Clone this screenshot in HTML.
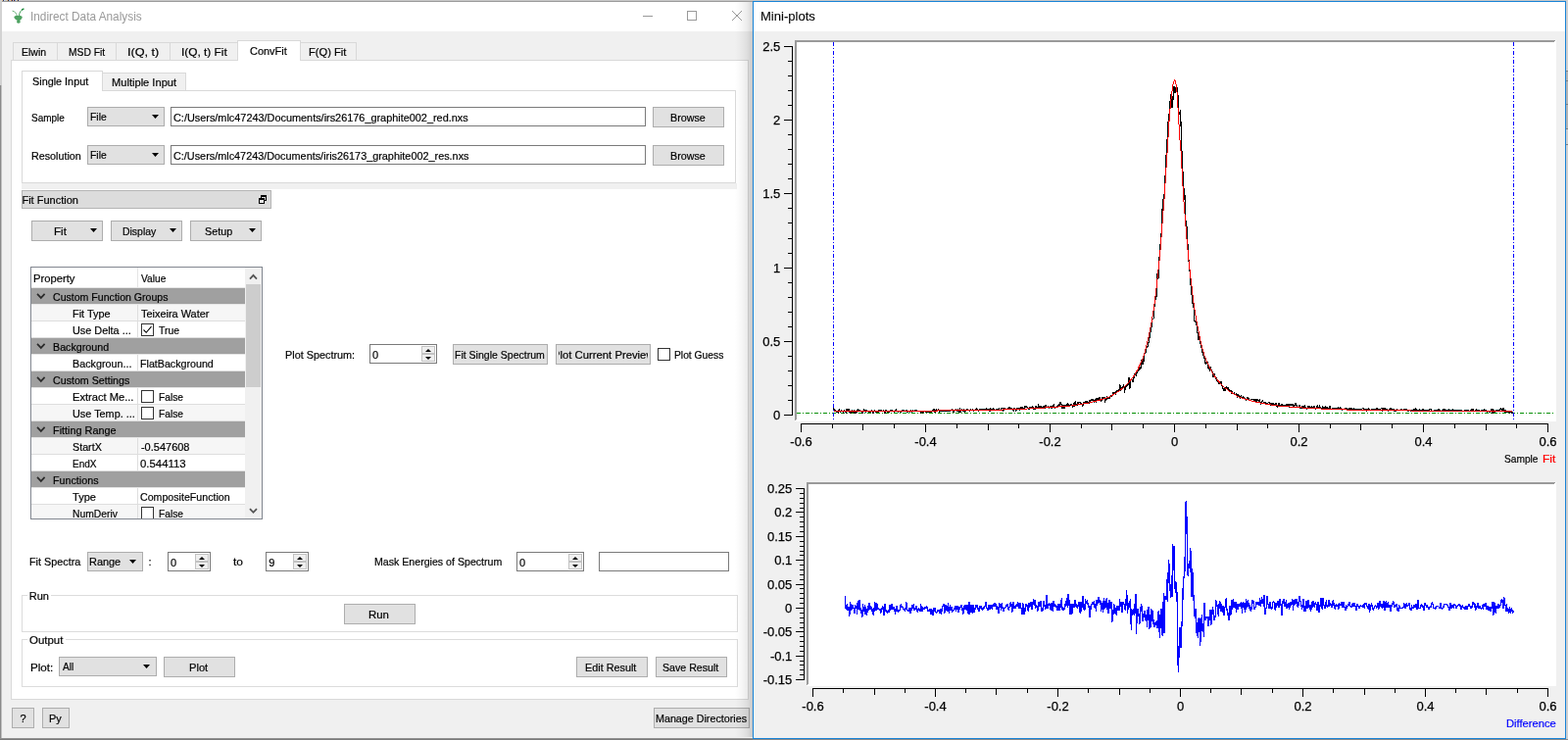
<!DOCTYPE html>
<html lang="en"><head><meta charset="utf-8"><title>Indirect Data Analysis</title>
<style>
html,body{margin:0;padding:0;}
body{width:1600px;height:755px;overflow:hidden;background:#8c8c8c;font-family:"Liberation Sans", sans-serif;font-size:11px;color:#000;position:relative;}
#root{position:absolute;left:0;top:0;width:1600px;height:755px;overflow:hidden;}
#root div,#root span,#root svg{position:absolute;box-sizing:content-box;}
.t{white-space:pre;font-family:"Liberation Sans", sans-serif;-webkit-text-stroke:0.2px;}
</style></head><body><div id="root">
<div style="left:0px;top:0px;width:1600px;height:1px;background:#c8c8c8;"></div>
<div style="left:2px;top:0px;width:1px;height:1px;background:#e8c890;"></div>
<div style="left:3px;top:0px;width:1px;height:1px;background:#303060;"></div>
<div style="left:4px;top:0px;width:1px;height:1px;background:#c0d8f0;"></div>
<div style="left:7px;top:0px;width:1px;height:1px;background:#e0c080;"></div>
<div style="left:8px;top:0px;width:1px;height:1px;background:#502020;"></div>
<div style="left:9px;top:0px;width:1px;height:1px;background:#80b0e0;"></div>
<div style="left:11px;top:0px;width:1px;height:1px;background:#d09050;"></div>
<div style="left:12px;top:0px;width:1px;height:1px;background:#302050;"></div>
<div style="left:14px;top:0px;width:1px;height:1px;background:#602020;"></div>
<div style="left:15px;top:0px;width:1px;height:1px;background:#70a0e0;"></div>
<div style="left:17px;top:0px;width:1px;height:1px;background:#e0c080;"></div>
<div style="left:18px;top:0px;width:1px;height:1px;background:#202060;"></div>
<div style="left:0px;top:1px;width:768px;height:1px;background:#9b9b9b;"></div>
<div style="left:0px;top:0px;width:2px;height:87px;background:#d2d2d2;"></div>
<div style="left:0px;top:87px;width:1px;height:668px;background:#8a8a8a;"></div>
<div style="left:1px;top:87px;width:1px;height:668px;background:#c0c0c0;"></div>
<div style="left:0px;top:753px;width:768px;height:1px;background:#909090;"></div>
<div style="left:0px;top:754px;width:768px;height:1px;background:#7a7a7a;"></div>
<div style="left:2px;top:2px;width:766px;height:30px;background:#fff;"></div>
<div style="left:2px;top:32px;width:766px;height:721px;background:#f0f0f0;"></div>
<svg style="left:10px;top:6px" width="18" height="20" viewBox="10 6 18 20"><path d="M13.0 11.2 C15.2 11.6 16.6 13.4 17.5 16.2" fill="none" stroke="#58a868" stroke-width="0.9" stroke-linecap="round"/><path d="M19.4 16.0 C19.8 12.6 21.4 10.4 23.2 9.5" fill="none" stroke="#45a05a" stroke-width="1.0" stroke-linecap="round"/><path d="M22.6 9.9 L24.0 9.2" fill="none" stroke="#1e8a3c" stroke-width="1.5" stroke-linecap="round"/><path d="M14.3 17.4 C14.8 16.0 17.0 15.9 18.5 16.1 C20.0 15.9 22.2 16.0 22.8 17.4 C22.5 19.0 21.3 20.0 20.3 20.8 L20.8 22.8 C20.0 24.2 17.8 24.2 17.0 22.8 L17.5 20.8 C16.2 20.0 14.6 19.0 14.3 17.4 Z" fill="#3f9a54" opacity="0.92"/></svg>
<span class="t" style="top:9px;font-size:12px;line-height:16px;color:#9a9a9a;left:30.71px;-webkit-text-stroke:0px;transform:scaleX(0.9851);transform-origin:0 50%;">Indirect Data Analysis</span>
<svg style="left:650px;top:6px" width="112" height="22" viewBox="0 0 112 22"><path d="M6 10.5 H16" stroke="#999" stroke-width="1" fill="none"/><rect x="51.5" y="5.5" width="9" height="9" stroke="#999" stroke-width="1" fill="none"/><path d="M97 5 L107 15 M107 5 L97 15" stroke="#999" stroke-width="1" fill="none"/></svg>
<div style="left:11px;top:61px;width:751px;height:651px;background:#fff;border:1px solid #d9d9d9;"></div>
<div style="left:13px;top:43px;width:349px;height:17px;background:#f0f0f0;border:1px solid #d9d9d9;"></div>
<div style="left:58px;top:44px;width:1px;height:17px;background:#d9d9d9;"></div>
<div style="left:118px;top:44px;width:1px;height:17px;background:#d9d9d9;"></div>
<div style="left:173px;top:44px;width:1px;height:17px;background:#d9d9d9;"></div>
<div style="left:242px;top:41px;width:63px;height:20px;background:#fff;border:1px solid #d9d9d9;border-bottom:none;"></div>
<span class="t" style="top:46px;font-size:11px;line-height:14px;left:21.68px;transform:scaleX(0.9560);transform-origin:0 50%;">Elwin</span>
<span class="t" style="top:46px;font-size:11px;line-height:14px;left:69.5px;transform:scaleX(0.9359);transform-origin:0 50%;">MSD Fit</span>
<span class="t" style="top:46px;font-size:11px;line-height:14px;left:129.74px;transform:scaleX(1.1500);transform-origin:0 50%;">I(Q, t)</span>
<span class="t" style="top:46px;font-size:11px;line-height:14px;left:184.69px;transform:scaleX(1.0784);transform-origin:0 50%;">I(Q, t) Fit</span>
<span class="t" style="top:45px;font-size:11px;line-height:14px;left:255px;transform:scaleX(0.9947);transform-origin:0 50%;">ConvFit</span>
<span class="t" style="top:46px;font-size:11px;line-height:14px;left:315.44px;transform:scaleX(1.0121);transform-origin:0 50%;">F(Q) Fit</span>
<div style="left:22px;top:92px;width:727px;height:93px;background:#fff;border:1px solid #d9d9d9;"></div>
<div style="left:104px;top:74px;width:84px;height:17px;background:#f0f0f0;border:1px solid #d9d9d9;"></div>
<div style="left:22px;top:72px;width:81px;height:20px;background:#fff;border:1px solid #d9d9d9;border-bottom:none;"></div>
<span class="t" style="top:76px;font-size:11px;line-height:14px;left:33.25px;transform:scaleX(0.9845);transform-origin:0 50%;">Single Input</span>
<span class="t" style="top:77px;font-size:11px;line-height:14px;left:113.54px;transform:scaleX(1.0100);transform-origin:0 50%;">Multiple Input</span>
<span class="t" style="top:112.5px;font-size:11px;line-height:14px;left:32.47px;transform:scaleX(0.9061);transform-origin:0 50%;">Sample</span>
<div style="left:89px;top:109px;width:77px;height:18px;background:#e1e1e1;border:1px solid #adadad;"></div>
<span class="t" style="top:111.5px;font-size:11px;line-height:14px;left:91.69px;transform:scaleX(0.9433);transform-origin:0 50%;">File</span>
<svg style="left:155px;top:117px" width="7" height="4" viewBox="0 0 7 4"><polygon points="0,0 7,0 3.5,4" fill="#000"/></svg>
<div style="left:174px;top:109px;width:483px;height:18px;background:#fff;border:1px solid #7a7a7a;"></div>
<span class="t" style="top:113px;font-size:11px;line-height:14px;left:177.01px;transform:scaleX(0.9894);transform-origin:0 50%;">C:/Users/mlc47243/Documents/irs26176_graphite002_red.nxs</span>
<div style="left:666px;top:109px;width:71px;height:19px;background:#e1e1e1;border:1px solid #adadad;"></div>
<span class="t" style="top:112.5px;font-size:11px;line-height:14px;left:683.77px;transform:scaleX(0.9775);transform-origin:0 50%;">Browse</span>
<span class="t" style="top:151.5px;font-size:11px;line-height:14px;left:31.97px;transform:scaleX(0.9773);transform-origin:0 50%;">Resolution</span>
<div style="left:89px;top:148px;width:77px;height:18px;background:#e1e1e1;border:1px solid #adadad;"></div>
<span class="t" style="top:150.5px;font-size:11px;line-height:14px;left:91.69px;transform:scaleX(0.9433);transform-origin:0 50%;">File</span>
<svg style="left:155px;top:156px" width="7" height="4" viewBox="0 0 7 4"><polygon points="0,0 7,0 3.5,4" fill="#000"/></svg>
<div style="left:174px;top:148px;width:483px;height:18px;background:#fff;border:1px solid #7a7a7a;"></div>
<span class="t" style="top:152px;font-size:11px;line-height:14px;left:177.01px;transform:scaleX(0.9862);transform-origin:0 50%;">C:/Users/mlc47243/Documents/iris26173_graphite002_res.nxs</span>
<div style="left:666px;top:148px;width:71px;height:19px;background:#e1e1e1;border:1px solid #adadad;"></div>
<span class="t" style="top:151.5px;font-size:11px;line-height:14px;left:683.77px;transform:scaleX(0.9775);transform-origin:0 50%;">Browse</span>
<div style="left:22px;top:187px;width:730px;height:6px;background:#f0f0f0;"></div>
<div style="left:22px;top:194px;width:253px;height:17px;background:#dcdcdc;border:1px solid #b4b4b4;"></div>
<span class="t" style="top:197px;font-size:11px;line-height:14px;left:22.45px;">Fit Function</span>
<svg style="left:263px;top:199px" width="10" height="10" viewBox="0 0 10 10"><rect x="3.5" y="0.5" width="5" height="5" fill="#dcdcdc" stroke="#000" stroke-width="1"/><path d="M3 1.5 H9" stroke="#000" stroke-width="1"/><rect x="1.5" y="3.5" width="5" height="5" fill="#eee" stroke="#000" stroke-width="1"/><path d="M1 4.5 H7" stroke="#000" stroke-width="1"/></svg>
<div style="left:32px;top:225px;width:71px;height:19px;background:#e1e1e1;border:1px solid #adadad;"></div>
<span class="t" style="top:228.5px;font-size:11px;line-height:14px;left:54.61px;transform:scaleX(1.0522);transform-origin:0 50%;">Fit</span>
<svg style="left:92px;top:233px" width="7" height="4" viewBox="0 0 7 4"><polygon points="0,0 7,0 3.5,4" fill="#000"/></svg>
<div style="left:113px;top:225px;width:71px;height:19px;background:#e1e1e1;border:1px solid #adadad;"></div>
<span class="t" style="top:228.5px;font-size:11px;line-height:14px;left:124.69px;transform:scaleX(0.9493);transform-origin:0 50%;">Display</span>
<svg style="left:173px;top:233px" width="7" height="4" viewBox="0 0 7 4"><polygon points="0,0 7,0 3.5,4" fill="#000"/></svg>
<div style="left:194px;top:225px;width:71px;height:19px;background:#e1e1e1;border:1px solid #adadad;"></div>
<span class="t" style="top:228.5px;font-size:11px;line-height:14px;left:209.15px;transform:scaleX(0.9805);transform-origin:0 50%;">Setup</span>
<svg style="left:254px;top:233px" width="7" height="4" viewBox="0 0 7 4"><polygon points="0,0 7,0 3.5,4" fill="#000"/></svg>
<div style="left:31px;top:272px;width:235px;height:256px;background:#fff;border:1px solid #828790;"></div>
<div style="left:32px;top:293px;width:218px;height:1px;background:#e5e5e5;"></div>
<span class="t" style="top:277px;font-size:11px;line-height:14px;left:34.44px;transform:scaleX(1.0195);transform-origin:0 50%;">Property</span>
<span class="t" style="top:277px;font-size:11px;line-height:14px;left:144.2px;transform:scaleX(0.9259);transform-origin:0 50%;">Value</span>
<div style="left:0;top:0;width:250px;height:529px;overflow:hidden">
<div style="left:32px;top:294px;width:218px;height:16px;background:#a0a0a0;"></div>
<svg style="left:37px;top:299px" width="10" height="7" viewBox="0 0 10 7"><path d="M1 0.9 L4.8 4.9 L8.6 0.9" fill="none" stroke="#2a2a2a" stroke-width="1.7"/></svg>
<span class="t" style="top:295.5px;font-size:11px;line-height:14px;left:54.12px;transform:scaleX(0.9613);transform-origin:0 50%;">Custom Function Groups</span>
<div style="left:32px;top:310px;width:218px;height:1px;background:#e6e6e6;"></div>
<div style="left:32px;top:311px;width:218px;height:16px;background:#f6f6f6;"></div>
<div style="left:32px;top:327px;width:218px;height:1px;background:#dedede;"></div>
<div style="left:140px;top:311px;width:1px;height:17px;background:#dedede;"></div>
<span class="t" style="top:312.5px;font-size:11px;line-height:14px;left:73.75px;transform:scaleX(0.9934);transform-origin:0 50%;">Fit Type</span>
<span class="t" style="top:312.5px;font-size:11px;line-height:14px;left:143.5px;transform:scaleX(0.9929);transform-origin:0 50%;">Teixeira Water</span>
<div style="left:32px;top:328px;width:218px;height:16px;background:#fff;"></div>
<div style="left:32px;top:344px;width:218px;height:1px;background:#dedede;"></div>
<div style="left:140px;top:328px;width:1px;height:17px;background:#dedede;"></div>
<span class="t" style="top:329.5px;font-size:11px;line-height:14px;left:73.76px;transform:scaleX(0.9864);transform-origin:0 50%;">Use Delta ...</span>
<div style="left:144px;top:330px;width:11px;height:11px;background:#fff;border:1px solid #333;"></div>
<svg style="left:144px;top:330px" width="13" height="13" viewBox="0 0 13 13"><path d="M2.5 6.5 L5.2 9.3 L10.5 3.2" fill="none" stroke="#000" stroke-width="1.1"/></svg>
<span class="t" style="top:329.5px;font-size:11px;line-height:14px;left:162.4px;transform:scaleX(0.9471);transform-origin:0 50%;">True</span>
<div style="left:32px;top:345px;width:218px;height:16px;background:#a0a0a0;"></div>
<svg style="left:37px;top:350px" width="10" height="7" viewBox="0 0 10 7"><path d="M1 0.9 L4.8 4.9 L8.6 0.9" fill="none" stroke="#2a2a2a" stroke-width="1.7"/></svg>
<span class="t" style="top:346.5px;font-size:11px;line-height:14px;left:53.87px;transform:scaleX(0.9729);transform-origin:0 50%;">Background</span>
<div style="left:32px;top:361px;width:218px;height:1px;background:#e6e6e6;"></div>
<div style="left:32px;top:362px;width:218px;height:16px;background:#fff;"></div>
<div style="left:32px;top:378px;width:218px;height:1px;background:#dedede;"></div>
<div style="left:140px;top:362px;width:1px;height:17px;background:#dedede;"></div>
<span class="t" style="top:363.5px;font-size:11px;line-height:14px;left:73.77px;transform:scaleX(0.9776);transform-origin:0 50%;">Backgroun...</span>
<span class="t" style="top:363.5px;font-size:11px;line-height:14px;left:142.77px;transform:scaleX(0.9703);transform-origin:0 50%;">FlatBackground</span>
<div style="left:32px;top:379px;width:218px;height:16px;background:#a0a0a0;"></div>
<svg style="left:37px;top:384px" width="10" height="7" viewBox="0 0 10 7"><path d="M1 0.9 L4.8 4.9 L8.6 0.9" fill="none" stroke="#2a2a2a" stroke-width="1.7"/></svg>
<span class="t" style="top:380.5px;font-size:11px;line-height:14px;left:54.12px;transform:scaleX(0.9700);transform-origin:0 50%;">Custom Settings</span>
<div style="left:32px;top:395px;width:218px;height:1px;background:#e6e6e6;"></div>
<div style="left:32px;top:396px;width:218px;height:16px;background:#fff;"></div>
<div style="left:32px;top:412px;width:218px;height:1px;background:#dedede;"></div>
<div style="left:140px;top:396px;width:1px;height:17px;background:#dedede;"></div>
<span class="t" style="top:397.5px;font-size:11px;line-height:14px;left:73.74px;transform:scaleX(1.0108);transform-origin:0 50%;">Extract Me...</span>
<div style="left:144px;top:398px;width:11px;height:11px;background:#fff;border:1px solid #333;"></div>
<span class="t" style="top:397.5px;font-size:11px;line-height:14px;left:161.7px;transform:scaleX(0.9282);transform-origin:0 50%;">False</span>
<div style="left:32px;top:413px;width:218px;height:16px;background:#f6f6f6;"></div>
<div style="left:32px;top:429px;width:218px;height:1px;background:#dedede;"></div>
<div style="left:140px;top:413px;width:1px;height:17px;background:#dedede;"></div>
<span class="t" style="top:414.5px;font-size:11px;line-height:14px;left:73.76px;transform:scaleX(0.9873);transform-origin:0 50%;">Use Temp. ...</span>
<div style="left:144px;top:415px;width:11px;height:11px;background:#fff;border:1px solid #333;"></div>
<span class="t" style="top:414.5px;font-size:11px;line-height:14px;left:161.7px;transform:scaleX(0.9282);transform-origin:0 50%;">False</span>
<div style="left:32px;top:430px;width:218px;height:16px;background:#a0a0a0;"></div>
<svg style="left:37px;top:435px" width="10" height="7" viewBox="0 0 10 7"><path d="M1 0.9 L4.8 4.9 L8.6 0.9" fill="none" stroke="#2a2a2a" stroke-width="1.7"/></svg>
<span class="t" style="top:431.5px;font-size:11px;line-height:14px;left:53.86px;transform:scaleX(0.9868);transform-origin:0 50%;">Fitting Range</span>
<div style="left:32px;top:446px;width:218px;height:1px;background:#e6e6e6;"></div>
<div style="left:32px;top:447px;width:218px;height:16px;background:#f6f6f6;"></div>
<div style="left:32px;top:463px;width:218px;height:1px;background:#dedede;"></div>
<div style="left:140px;top:447px;width:1px;height:17px;background:#dedede;"></div>
<span class="t" style="top:448.5px;font-size:11px;line-height:14px;left:74.26px;transform:scaleX(0.9752);transform-origin:0 50%;">StartX</span>
<span class="t" style="top:448.5px;font-size:11px;line-height:14px;left:143.95px;">-0.547608</span>
<div style="left:32px;top:464px;width:218px;height:16px;background:#fff;"></div>
<div style="left:32px;top:480px;width:218px;height:1px;background:#dedede;"></div>
<div style="left:140px;top:464px;width:1px;height:17px;background:#dedede;"></div>
<span class="t" style="top:465.5px;font-size:11px;line-height:14px;left:73.82px;transform:scaleX(0.9115);transform-origin:0 50%;">EndX</span>
<span class="t" style="top:465.5px;font-size:11px;line-height:14px;left:143.24px;transform:scaleX(1.0337);transform-origin:0 50%;">0.544113</span>
<div style="left:32px;top:481px;width:218px;height:16px;background:#a0a0a0;"></div>
<svg style="left:37px;top:486px" width="10" height="7" viewBox="0 0 10 7"><path d="M1 0.9 L4.8 4.9 L8.6 0.9" fill="none" stroke="#2a2a2a" stroke-width="1.7"/></svg>
<span class="t" style="top:482.5px;font-size:11px;line-height:14px;left:53.87px;transform:scaleX(0.9754);transform-origin:0 50%;">Functions</span>
<div style="left:32px;top:497px;width:218px;height:1px;background:#e6e6e6;"></div>
<div style="left:32px;top:498px;width:218px;height:16px;background:#fff;"></div>
<div style="left:32px;top:514px;width:218px;height:1px;background:#dedede;"></div>
<div style="left:140px;top:498px;width:1px;height:17px;background:#dedede;"></div>
<span class="t" style="top:499.5px;font-size:11px;line-height:14px;left:73.6px;transform:scaleX(1.0043);transform-origin:0 50%;">Type</span>
<span class="t" style="top:499.5px;font-size:11px;line-height:14px;left:143.02px;transform:scaleX(0.9664);transform-origin:0 50%;">CompositeFunction</span>
<div style="left:32px;top:515px;width:218px;height:16px;background:#f6f6f6;"></div>
<div style="left:32px;top:531px;width:218px;height:1px;background:#dedede;"></div>
<div style="left:140px;top:515px;width:1px;height:17px;background:#dedede;"></div>
<span class="t" style="top:516.5px;font-size:11px;line-height:14px;left:73.8px;transform:scaleX(0.9389);transform-origin:0 50%;">NumDeriv</span>
<div style="left:144px;top:517px;width:11px;height:11px;background:#fff;border:1px solid #333;"></div>
<span class="t" style="top:516.5px;font-size:11px;line-height:14px;left:161.7px;transform:scaleX(0.9282);transform-origin:0 50%;">False</span>
</div>
<div style="left:140px;top:273px;width:1px;height:21px;background:#e5e5e5;"></div>
<div style="left:250px;top:273px;width:17px;height:256px;background:#f0f0f0;"></div>
<div style="left:251px;top:290px;width:15px;height:105px;background:#cdcdcd;"></div>
<svg style="left:254px;top:279px" width="9" height="7" viewBox="0 0 9 7"><path d="M1 5.6 L4.5 1.9 L8 5.6" fill="none" stroke="#555" stroke-width="1.8"/></svg>
<svg style="left:254px;top:518px" width="9" height="7" viewBox="0 0 9 7"><path d="M1 1.1 L4.5 4.8 L8 1.1" fill="none" stroke="#555" stroke-width="1.8"/></svg>
<span class="t" style="top:355px;font-size:11px;line-height:14px;left:290.56px;transform:scaleX(0.9858);transform-origin:0 50%;">Plot Spectrum:</span>
<div style="left:377px;top:351px;width:67px;height:18px;background:#fff;border:1px solid #7a7a7a;"></div>
<span class="t" style="top:354.5px;font-size:11px;line-height:14px;left:380.05px;">0</span>
<div style="left:430px;top:353px;width:12px;height:6px;background:#efefef;border:1px solid #c3c3c3;"></div>
<div style="left:430px;top:361px;width:12px;height:6px;background:#efefef;border:1px solid #c3c3c3;"></div>
<svg style="left:434px;top:356px" width="6" height="3" viewBox="0 0 6 3"><polygon points="0,3 6,3 3,0" fill="#000"/></svg>
<svg style="left:434px;top:364px" width="6" height="3" viewBox="0 0 6 3"><polygon points="0,0 6,0 3,3" fill="#000"/></svg>
<div style="left:462px;top:351px;width:95px;height:19px;background:#e1e1e1;border:1px solid #adadad;"></div>
<span class="t" style="top:354.5px;font-size:11px;line-height:14px;left:463.68px;transform:scaleX(0.9562);transform-origin:0 50%;">Fit Single Spectrum</span>
<div style="left:567px;top:351px;width:95px;height:19px;background:#e1e1e1;border:1px solid #adadad;"></div>
<div style="left:0;top:0;width:661px;height:755px;overflow:hidden"><div style="left:570px;top:0;width:200px;height:755px;overflow:hidden;">
<span class="t" style="top:354.5px;font-size:11px;line-height:14px;left:-6.27px;transform:scaleX(1.0264);transform-origin:0 50%;">Plot Current Preview</span>
</div></div>
<div style="left:671px;top:355px;width:11px;height:11px;background:#fff;border:1px solid #333;"></div>
<span class="t" style="top:355px;font-size:11px;line-height:14px;left:688.05px;transform:scaleX(0.9355);transform-origin:0 50%;">Plot Guess</span>
<span class="t" style="top:565.5px;font-size:11px;line-height:14px;left:29.76px;transform:scaleX(0.9829);transform-origin:0 50%;">Fit Spectra</span>
<div style="left:89px;top:563px;width:55px;height:18px;background:#e1e1e1;border:1px solid #adadad;"></div>
<span class="t" style="top:565.5px;font-size:11px;line-height:14px;left:91.46px;transform:scaleX(0.9920);transform-origin:0 50%;">Range</span>
<svg style="left:132px;top:571px" width="7" height="4" viewBox="0 0 7 4"><polygon points="0,0 7,0 3.5,4" fill="#000"/></svg>
<span class="t" style="top:565.5px;font-size:11px;line-height:14px;left:151.55px;">:</span>
<div style="left:171px;top:563px;width:42px;height:18px;background:#fff;border:1px solid #7a7a7a;"></div>
<span class="t" style="top:566.5px;font-size:11px;line-height:14px;left:174.05px;">0</span>
<div style="left:199px;top:565px;width:12px;height:6px;background:#efefef;border:1px solid #c3c3c3;"></div>
<div style="left:199px;top:573px;width:12px;height:6px;background:#efefef;border:1px solid #c3c3c3;"></div>
<svg style="left:203px;top:568px" width="6" height="3" viewBox="0 0 6 3"><polygon points="0,3 6,3 3,0" fill="#000"/></svg>
<svg style="left:203px;top:576px" width="6" height="3" viewBox="0 0 6 3"><polygon points="0,0 6,0 3,3" fill="#000"/></svg>
<span class="t" style="top:565.5px;font-size:11px;line-height:14px;left:237.9px;transform:scaleX(1.0857);transform-origin:0 50%;">to</span>
<div style="left:271px;top:563px;width:42px;height:18px;background:#fff;border:1px solid #7a7a7a;"></div>
<span class="t" style="top:566.5px;font-size:11px;line-height:14px;left:274.15px;">9</span>
<div style="left:299px;top:565px;width:12px;height:6px;background:#efefef;border:1px solid #c3c3c3;"></div>
<div style="left:299px;top:573px;width:12px;height:6px;background:#efefef;border:1px solid #c3c3c3;"></div>
<svg style="left:303px;top:568px" width="6" height="3" viewBox="0 0 6 3"><polygon points="0,3 6,3 3,0" fill="#000"/></svg>
<svg style="left:303px;top:576px" width="6" height="3" viewBox="0 0 6 3"><polygon points="0,0 6,0 3,3" fill="#000"/></svg>
<span class="t" style="top:565.5px;font-size:11px;line-height:14px;left:381.58px;transform:scaleX(0.9645);transform-origin:0 50%;">Mask Energies of Spectrum</span>
<div style="left:527px;top:563px;width:67px;height:18px;background:#fff;border:1px solid #7a7a7a;"></div>
<span class="t" style="top:566.5px;font-size:11px;line-height:14px;left:530.05px;">0</span>
<div style="left:580px;top:565px;width:12px;height:6px;background:#efefef;border:1px solid #c3c3c3;"></div>
<div style="left:580px;top:573px;width:12px;height:6px;background:#efefef;border:1px solid #c3c3c3;"></div>
<svg style="left:584px;top:568px" width="6" height="3" viewBox="0 0 6 3"><polygon points="0,3 6,3 3,0" fill="#000"/></svg>
<svg style="left:584px;top:576px" width="6" height="3" viewBox="0 0 6 3"><polygon points="0,0 6,0 3,3" fill="#000"/></svg>
<div style="left:611px;top:563px;width:131px;height:18px;background:#fff;border:1px solid #7a7a7a;"></div>
<div style="left:22px;top:607px;width:729px;height:36px;border:1px solid #dcdcdc;"></div>
<div style="left:28px;top:600px;width:24px;height:14px;background:#fff;"></div>
<span class="t" style="top:600.5px;font-size:11px;line-height:14px;left:29.75px;">Run</span>
<div style="left:351px;top:616px;width:71px;height:19px;background:#e1e1e1;border:1px solid #adadad;"></div>
<span class="t" style="top:619.5px;font-size:11px;line-height:14px;left:376.42px;transform:scaleX(1.0347);transform-origin:0 50%;">Run</span>
<div style="left:22px;top:652px;width:729px;height:47px;border:1px solid #dcdcdc;"></div>
<div style="left:28px;top:645px;width:39px;height:14px;background:#fff;"></div>
<span class="t" style="top:645.5px;font-size:11px;line-height:14px;left:30.24px;transform:scaleX(1.0412);transform-origin:0 50%;">Output</span>
<span class="t" style="top:674px;font-size:11px;line-height:14px;left:30.51px;transform:scaleX(1.0585);transform-origin:0 50%;">Plot:</span>
<div style="left:60px;top:670px;width:98px;height:18px;background:#e1e1e1;border:1px solid #adadad;"></div>
<span class="t" style="top:672.5px;font-size:11px;line-height:14px;left:63.6px;transform:scaleX(0.9217);transform-origin:0 50%;">All</span>
<svg style="left:146px;top:678px" width="7" height="4" viewBox="0 0 7 4"><polygon points="0,0 7,0 3.5,4" fill="#000"/></svg>
<div style="left:167px;top:670px;width:71px;height:19px;background:#e1e1e1;border:1px solid #adadad;"></div>
<span class="t" style="top:673.5px;font-size:11px;line-height:14px;left:192.64px;transform:scaleX(1.0137);transform-origin:0 50%;">Plot</span>
<div style="left:588px;top:670px;width:71px;height:19px;background:#e1e1e1;border:1px solid #adadad;"></div>
<span class="t" style="top:673.5px;font-size:11px;line-height:14px;left:597.36px;transform:scaleX(0.9848);transform-origin:0 50%;">Edit Result</span>
<div style="left:669px;top:670px;width:71px;height:19px;background:#e1e1e1;border:1px solid #adadad;"></div>
<span class="t" style="top:673.5px;font-size:11px;line-height:14px;left:676.36px;transform:scaleX(0.9654);transform-origin:0 50%;">Save Result</span>
<div style="left:12px;top:722px;width:21px;height:19px;background:#e1e1e1;border:1px solid #adadad;"></div>
<span class="t" style="top:725.5px;font-size:11px;line-height:14px;left:20.45px;">?</span>
<div style="left:43px;top:722px;width:26px;height:19px;background:#e1e1e1;border:1px solid #adadad;"></div>
<span class="t" style="top:725.5px;font-size:11px;line-height:14px;left:49.55px;transform:scaleX(0.9959);transform-origin:0 50%;">Py</span>
<div style="left:667px;top:722px;width:96px;height:19px;background:#e1e1e1;border:1px solid #adadad;"></div>
<span class="t" style="top:725.5px;font-size:11px;line-height:14px;left:668.67px;transform:scaleX(0.9751);transform-origin:0 50%;">Manage Directories</span>
<div style="left:750px;top:2px;width:18px;height:750px;background:linear-gradient(to right, rgba(0,0,0,0) 0%, rgba(0,0,0,0.03) 35%, rgba(0,0,0,0.08) 70%, rgba(0,0,0,0.17) 100%);"></div>
<div style="left:1598px;top:0px;width:2px;height:755px;background:#d0d0d0;"></div>
<div style="left:1598px;top:72px;width:2px;height:60px;background:#b4b4b4;"></div>
<div style="left:1598px;top:72px;width:2px;height:1px;background:#808080;"></div>
<div style="left:1598px;top:82px;width:2px;height:1px;background:#808080;"></div>
<div style="left:1598px;top:106px;width:2px;height:1px;background:#808080;"></div>
<div style="left:1598px;top:131px;width:2px;height:1px;background:#808080;"></div>
<div style="left:1598px;top:147px;width:2px;height:1px;background:#808080;"></div>
<div style="left:768px;top:754px;width:832px;height:1px;background:#8a8a8a;"></div>
<div style="left:768px;top:1px;width:828px;height:751px;background:#f0f0f0;border:1px solid #1883d7;"></div>
<div style="left:769px;top:2px;width:828px;height:30px;background:#fff;"></div>
<span class="t" style="top:9px;font-size:12.5px;line-height:16px;left:776.42px;-webkit-text-stroke:0.1px;transform:scaleX(1.0438);transform-origin:0 50%;">Mini-plots</span>
<svg style="left:769px;top:32px" width="828" height="721" viewBox="769 32 828 721"><g shape-rendering="crispEdges"><rect x="811" y="41" width="777" height="389" fill="#fff"/><path d="M811 41 H1587 V42 H1586 V43 H813 V428 H812 V429 H811 Z" fill="#9a9a9a"/><path d="M808.5 47 V424 M800 423.5 H809 M804 408.5 H809 M804 393.5 H809 M804 378.5 H809 M804 363.5 H809 M800 348.5 H809 M804 333.5 H809 M804 318.5 H809 M804 303.5 H809 M804 288.5 H809 M800 273.5 H809 M804 258.5 H809 M804 243.5 H809 M804 227.5 H809 M804 212.5 H809 M800 197.5 H809 M804 182.5 H809 M804 167.5 H809 M804 152.5 H809 M804 137.5 H809 M800 122.5 H809 M804 107.5 H809 M804 92.5 H809 M804 77.5 H809 M804 62.5 H809 M800 47.5 H809" stroke="#000" stroke-width="1" fill="none"/><path d="M817 432.5 H1580 M817.5 432 V441 M849.5 432 V437 M880.5 432 V439 M912.5 432 V437 M944.5 432 V441 M976.5 432 V437 M1008.5 432 V439 M1039.5 432 V437 M1071.5 432 V441 M1103.5 432 V437 M1134.5 432 V439 M1166.5 432 V437 M1198.5 432 V441 M1230.5 432 V437 M1262.5 432 V439 M1293.5 432 V437 M1325.5 432 V441 M1357.5 432 V437 M1388.5 432 V439 M1420.5 432 V437 M1452.5 432 V441 M1484.5 432 V437 M1516.5 432 V439 M1547.5 432 V437 M1579.5 432 V441" stroke="#000" stroke-width="1" fill="none"/><path d="M813 421.5 H1586" stroke="#009000" stroke-width="1" stroke-dasharray="4 2 1 2" fill="none"/><path d="M850.5 43 V428" stroke="#0000ff" stroke-width="1" stroke-dasharray="4 2 1 2" fill="none"/><path d="M1544.5 43 V428" stroke="#0000ff" stroke-width="1" stroke-dasharray="4 2 1 2" fill="none"/><polyline points="850.8,415.9 851.4,419.9 852.1,419.0 852.8,418.4 853.4,420.5 854.1,419.2 854.7,419.3 855.4,422.1 856.1,417.7 856.7,418.4 857.4,420.3 858.0,419.6 858.7,418.7 859.4,419.7 860.0,419.7 860.7,421.4 861.3,418.7 862.0,419.3 862.7,419.1 863.3,421.4 864.0,417.3 864.6,419.3 865.3,420.0 866.0,416.9 866.6,419.6 867.3,421.3 868.0,420.0 868.6,422.3 869.3,418.3 869.9,420.1 870.6,420.4 871.3,418.4 871.9,421.5 872.6,419.0 873.2,421.9 873.9,420.4 874.6,421.0 875.2,418.1 875.9,417.8 876.5,420.0 877.2,418.8 877.9,419.9 878.5,419.1 879.2,420.5 879.8,421.4 880.5,421.5 881.2,419.4 881.8,417.6 882.5,419.5 883.2,420.3 883.8,417.9 884.5,419.5 885.1,419.6 885.8,419.5 886.5,419.9 887.1,420.0 887.8,421.1 888.4,419.2 889.1,419.8 889.8,418.6 890.4,420.1 891.1,421.6 891.7,419.8 892.4,418.1 893.1,420.1 893.7,420.6 894.4,420.9 895.0,420.7 895.7,420.0 896.4,420.8 897.0,418.2 897.7,420.0 898.4,419.6 899.0,418.3 899.7,418.2 900.3,419.9 901.0,419.3 901.7,418.9 902.3,419.8 903.0,421.4 903.6,419.0 904.3,418.8 905.0,419.2 905.6,420.5 906.3,419.8 906.9,420.2 907.6,419.9 908.3,418.4 908.9,418.1 909.6,419.0 910.2,419.1 910.9,418.9 911.6,419.6 912.2,419.7 912.9,420.2 913.6,419.6 914.2,417.4 914.9,418.7 915.5,419.9 916.2,420.0 916.9,420.4 917.5,419.2 918.2,419.2 918.8,421.0 919.5,419.1 920.2,420.1 920.8,418.2 921.5,419.4 922.1,417.9 922.8,420.0 923.5,419.8 924.1,419.2 924.8,418.5 925.4,419.0 926.1,420.7 926.8,419.3 927.4,419.5 928.1,419.9 928.8,420.1 929.4,417.8 930.1,419.9 930.7,420.3 931.4,418.9 932.1,419.4 932.7,419.5 933.4,418.7 934.0,419.0 934.7,419.1 935.4,418.5 936.0,419.2 936.7,420.0 937.3,419.8 938.0,419.9 938.7,419.2 939.3,420.5 940.0,421.2 940.6,419.3 941.3,420.7 942.0,421.3 942.6,419.1 943.3,420.1 944.0,418.9 944.6,419.9 945.3,420.5 945.9,420.6 946.6,419.9 947.3,419.6 947.9,420.1 948.6,419.6 949.2,420.8 949.9,419.3 950.6,421.0 951.2,419.5 951.9,418.6 952.5,418.2 953.2,417.5 953.9,420.7 954.5,418.4 955.2,418.0 955.8,418.2 956.5,420.1 957.2,418.7 957.8,417.3 958.5,420.6 959.2,418.6 959.8,418.0 960.5,419.7 961.1,418.5 961.8,420.1 962.5,419.8 963.1,419.8 963.8,418.8 964.4,419.1 965.1,418.0 965.8,419.9 966.4,419.1 967.1,418.0 967.7,418.3 968.4,420.2 969.1,418.2 969.7,419.3 970.4,418.4 971.0,418.5 971.7,417.6 972.4,418.7 973.0,420.6 973.7,420.1 974.3,418.0 975.0,419.0 975.7,417.6 976.3,418.4 977.0,419.4 977.7,417.6 978.3,419.5 979.0,420.7 979.6,416.6 980.3,420.5 981.0,417.9 981.6,417.6 982.3,418.4 982.9,420.2 983.6,417.5 984.3,420.0 984.9,419.8 985.6,418.8 986.2,417.7 986.9,418.1 987.6,417.6 988.2,418.9 988.9,418.6 989.5,419.5 990.2,418.7 990.9,417.7 991.5,418.6 992.2,417.8 992.9,418.9 993.5,418.9 994.2,418.2 994.8,418.5 995.5,417.6 996.2,418.0 996.8,416.4 997.5,418.4 998.1,418.4 998.8,419.2 999.5,418.1 1000.1,417.4 1000.8,418.9 1001.4,418.1 1002.1,417.3 1002.8,418.2 1003.4,418.6 1004.1,417.0 1004.7,417.9 1005.4,417.6 1006.1,416.8 1006.7,416.8 1007.4,418.3 1008.1,418.5 1008.7,417.6 1009.4,418.0 1010.0,419.8 1010.7,416.5 1011.4,417.8 1012.0,417.1 1012.7,419.0 1013.3,416.4 1014.0,418.4 1014.7,417.9 1015.3,419.2 1016.0,417.9 1016.6,418.0 1017.3,417.9 1018.0,417.2 1018.6,417.6 1019.3,416.6 1019.9,418.1 1020.6,418.7 1021.3,417.6 1021.9,416.9 1022.6,416.2 1023.3,416.6 1023.9,419.4 1024.6,417.0 1025.2,415.8 1025.9,417.3 1026.6,417.9 1027.2,417.0 1027.9,417.8 1028.5,416.5 1029.2,417.2 1029.9,415.6 1030.5,416.6 1031.2,417.9 1031.8,416.4 1032.5,416.0 1033.2,417.7 1033.8,417.5 1034.5,419.6 1035.1,415.9 1035.8,417.6 1036.5,419.3 1037.1,418.8 1037.8,417.1 1038.5,415.9 1039.1,416.8 1039.8,416.2 1040.4,417.9 1041.1,418.2 1041.8,415.6 1042.4,416.0 1043.1,416.6 1043.7,415.0 1044.4,417.6 1045.1,416.9 1045.7,415.2 1046.4,414.2 1047.0,416.3 1047.7,414.4 1048.4,417.0 1049.0,415.9 1049.7,416.4 1050.3,418.0 1051.0,415.8 1051.7,415.0 1052.3,416.2 1053.0,416.1 1053.7,414.3 1054.3,417.5 1055.0,417.7 1055.6,416.7 1056.3,417.3 1057.0,414.2 1057.6,415.4 1058.3,416.8 1058.9,416.4 1059.6,412.2 1060.3,416.3 1060.9,416.5 1061.6,415.1 1062.2,414.7 1062.9,415.1 1063.6,416.5 1064.2,416.7 1064.9,414.5 1065.5,415.3 1066.2,417.2 1066.9,413.7 1067.5,414.1 1068.2,415.3 1068.9,415.3 1069.5,414.6 1070.2,415.7 1070.8,416.5 1071.5,414.3 1072.2,416.5 1072.8,414.1 1073.5,416.4 1074.1,414.6 1074.8,414.6 1075.5,412.1 1076.1,415.7 1076.8,416.1 1077.4,415.0 1078.1,415.6 1078.8,414.9 1079.4,413.5 1080.1,413.0 1080.7,411.8 1081.4,414.8 1082.1,410.4 1082.7,411.1 1083.4,413.9 1084.1,416.6 1084.7,413.7 1085.4,413.4 1086.0,416.5 1086.7,413.3 1087.4,413.6 1088.0,414.3 1088.7,412.3 1089.3,411.7 1090.0,413.7 1090.7,412.6 1091.3,413.8 1092.0,413.9 1092.6,412.6 1093.3,412.0 1094.0,413.4 1094.6,415.5 1095.3,411.6 1095.9,414.5 1096.6,412.0 1097.3,409.6 1097.9,412.0 1098.6,413.5 1099.3,413.8 1099.9,410.0 1100.6,411.5 1101.2,410.6 1101.9,410.0 1102.6,411.2 1103.2,411.5 1103.9,412.3 1104.5,415.2 1105.2,412.9 1105.9,410.7 1106.5,410.8 1107.2,409.8 1107.8,410.5 1108.5,410.0 1109.2,408.9 1109.8,411.2 1110.5,410.2 1111.1,412.0 1111.8,408.1 1112.5,409.3 1113.1,408.5 1113.8,406.8 1114.5,407.4 1115.1,408.9 1115.8,407.5 1116.4,410.6 1117.1,407.7 1117.8,408.0 1118.4,410.6 1119.1,405.7 1119.7,408.9 1120.4,406.4 1121.1,408.1 1121.7,405.5 1122.4,404.8 1123.0,408.3 1123.7,409.4 1124.4,406.8 1125.0,404.8 1125.7,406.9 1126.3,407.1 1127.0,404.9 1127.7,411.0 1128.3,406.7 1129.0,408.0 1129.7,404.4 1130.3,406.3 1131.0,406.9 1131.6,405.1 1132.3,407.1 1133.0,403.7 1133.6,404.8 1134.3,403.8 1134.9,404.2 1135.6,400.2 1136.3,402.1 1136.9,400.3 1137.6,400.0 1138.2,402.6 1138.9,399.0 1139.6,399.1 1140.2,398.8 1140.9,400.1 1141.5,399.7 1142.2,396.3 1142.9,392.5 1143.5,399.4 1144.2,395.5 1144.9,397.3 1145.5,393.9 1146.2,394.3 1146.8,392.2 1147.5,401.4 1148.2,395.3 1148.8,395.7 1149.5,392.9 1150.1,393.9 1150.8,393.1 1151.5,389.1 1152.1,385.3 1152.8,397.0 1153.4,389.7 1154.1,387.4 1154.8,387.5 1155.4,387.7 1156.1,389.7 1156.7,387.8 1157.4,382.5 1158.1,380.7 1158.7,382.4 1159.4,383.9 1160.1,380.2 1160.7,380.0 1161.4,376.6 1162.0,376.6 1162.7,377.4 1163.4,373.8 1164.0,376.4 1164.7,369.2 1165.3,366.8 1166.0,372.2 1166.7,366.0 1167.3,368.6 1168.0,360.4 1168.6,358.6 1169.3,359.6 1170.0,353.4 1170.6,355.1 1171.3,353.0 1171.9,350.0 1172.6,345.8 1173.3,343.3 1173.9,338.6 1174.6,337.6 1175.3,329.7 1175.9,324.9 1176.6,325.8 1177.2,324.8 1177.9,312.7 1178.6,306.1 1179.2,305.5 1179.9,303.3 1180.5,290.2 1181.2,277.8 1181.9,284.5 1182.5,266.7 1183.2,261.3 1183.8,255.5 1184.5,240.8 1185.2,237.7 1185.8,218.9 1186.5,206.1 1187.1,203.2 1187.8,199.8 1188.5,195.1 1189.1,179.3 1189.8,170.3 1190.5,143.8 1191.1,141.9 1191.8,124.1 1192.4,126.9 1193.1,115.9 1193.8,103.0 1194.4,104.2 1195.1,95.6 1195.7,108.8 1196.4,110.1 1197.1,98.7 1197.7,89.3 1198.4,87.7 1199.0,94.5 1199.7,89.1 1200.4,90.3 1201.0,89.4 1201.7,93.1 1202.3,105.1 1203.0,115.7 1203.7,116.3 1204.3,112.5 1205.0,125.7 1205.7,147.4 1206.3,166.6 1207.0,176.2 1207.6,188.7 1208.3,195.6 1209.0,199.5 1209.6,219.8 1210.3,231.3 1210.9,230.7 1211.6,244.4 1212.3,254.9 1212.9,264.4 1213.6,274.1 1214.2,276.9 1214.9,290.4 1215.6,293.2 1216.2,302.8 1216.9,309.8 1217.5,309.0 1218.2,314.2 1218.9,327.2 1219.5,328.5 1220.2,327.8 1220.9,329.2 1221.5,338.1 1222.2,340.0 1222.8,346.8 1223.5,339.0 1224.2,347.6 1224.8,349.4 1225.5,352.9 1226.1,354.9 1226.8,358.3 1227.5,363.1 1228.1,362.5 1228.8,366.1 1229.4,364.4 1230.1,370.9 1230.8,371.7 1231.4,370.0 1232.1,369.7 1232.7,373.6 1233.4,376.8 1234.1,376.6 1234.7,378.7 1235.4,374.4 1236.1,377.9 1236.7,378.3 1237.4,381.5 1238.0,384.4 1238.7,381.6 1239.4,381.4 1240.0,384.5 1240.7,386.5 1241.3,385.1 1242.0,388.6 1242.7,387.2 1243.3,390.7 1244.0,391.9 1244.6,389.8 1245.3,390.9 1246.0,388.7 1246.6,393.4 1247.3,393.5 1247.9,396.2 1248.6,398.2 1249.3,398.6 1249.9,395.0 1250.6,398.4 1251.3,394.8 1251.9,394.7 1252.6,398.2 1253.2,395.3 1253.9,398.2 1254.6,397.1 1255.2,399.8 1255.9,398.2 1256.5,401.8 1257.2,399.5 1257.9,401.7 1258.5,401.6 1259.2,400.7 1259.8,401.8 1260.5,402.5 1261.2,401.6 1261.8,401.8 1262.5,405.6 1263.1,402.9 1263.8,403.0 1264.5,405.6 1265.1,404.1 1265.8,407.0 1266.5,402.9 1267.1,405.7 1267.8,405.6 1268.4,403.8 1269.1,406.1 1269.8,405.1 1270.4,407.8 1271.1,407.2 1271.7,408.7 1272.4,407.0 1273.1,405.3 1273.7,406.7 1274.4,405.9 1275.0,408.9 1275.7,408.8 1276.4,408.4 1277.0,407.0 1277.7,407.4 1278.3,408.1 1279.0,407.3 1279.7,408.6 1280.3,408.6 1281.0,406.8 1281.7,409.7 1282.3,408.7 1283.0,406.7 1283.6,409.1 1284.3,408.3 1285.0,410.4 1285.6,406.8 1286.3,413.0 1286.9,411.5 1287.6,411.5 1288.3,407.7 1288.9,409.7 1289.6,410.6 1290.2,412.2 1290.9,409.9 1291.6,410.4 1292.2,411.6 1292.9,412.8 1293.5,412.4 1294.2,410.6 1294.9,410.6 1295.5,411.1 1296.2,411.5 1296.8,413.8 1297.5,411.5 1298.2,413.1 1298.8,411.7 1299.5,411.2 1300.2,412.9 1300.8,413.5 1301.5,410.9 1302.1,411.8 1302.8,413.2 1303.5,416.4 1304.1,412.6 1304.8,411.7 1305.4,411.2 1306.1,413.6 1306.8,413.6 1307.4,413.4 1308.1,411.8 1308.7,414.5 1309.4,413.2 1310.1,414.3 1310.7,412.8 1311.4,415.2 1312.0,412.8 1312.7,414.0 1313.4,413.7 1314.0,412.8 1314.7,412.1 1315.4,415.7 1316.0,412.4 1316.7,413.0 1317.3,414.1 1318.0,412.2 1318.7,413.7 1319.3,412.4 1320.0,414.7 1320.6,415.1 1321.3,412.7 1322.0,411.7 1322.6,413.5 1323.3,413.3 1323.9,414.9 1324.6,415.9 1325.3,414.7 1325.9,412.8 1326.6,416.7 1327.2,415.2 1327.9,416.8 1328.6,414.6 1329.2,413.8 1329.9,416.2 1330.6,415.3 1331.2,413.4 1331.9,415.1 1332.5,416.4 1333.2,416.5 1333.9,417.4 1334.5,414.3 1335.2,416.0 1335.8,414.1 1336.5,414.4 1337.2,416.1 1337.8,416.0 1338.5,414.6 1339.1,415.3 1339.8,415.2 1340.5,417.3 1341.1,414.6 1341.8,416.6 1342.4,418.1 1343.1,416.4 1343.8,415.3 1344.4,413.5 1345.1,416.2 1345.8,417.2 1346.4,413.6 1347.1,415.7 1347.7,416.2 1348.4,417.1 1349.1,417.1 1349.7,414.4 1350.4,416.3 1351.0,416.6 1351.7,416.6 1352.4,414.5 1353.0,416.8 1353.7,415.5 1354.3,416.0 1355.0,416.0 1355.7,417.2 1356.3,415.6 1357.0,414.7 1357.6,416.4 1358.3,417.4 1359.0,417.8 1359.6,416.3 1360.3,416.8 1361.0,416.6 1361.6,416.6 1362.3,418.1 1362.9,415.8 1363.6,416.4 1364.3,416.8 1364.9,416.5 1365.6,415.8 1366.2,416.7 1366.9,417.7 1367.6,415.6 1368.2,417.3 1368.9,417.6 1369.5,418.5 1370.2,416.9 1370.9,418.0 1371.5,417.5 1372.2,416.6 1372.8,417.0 1373.5,416.1 1374.2,416.8 1374.8,417.5 1375.5,417.5 1376.2,417.7 1376.8,416.6 1377.5,417.2 1378.1,417.6 1378.8,416.4 1379.5,417.2 1380.1,417.7 1380.8,418.8 1381.4,416.9 1382.1,417.1 1382.8,417.3 1383.4,417.8 1384.1,418.2 1384.7,417.6 1385.4,417.2 1386.1,417.5 1386.7,417.6 1387.4,417.9 1388.0,417.1 1388.7,417.3 1389.4,418.2 1390.0,416.8 1390.7,416.8 1391.4,416.8 1392.0,417.7 1392.7,417.7 1393.3,418.7 1394.0,416.9 1394.7,419.6 1395.3,418.0 1396.0,417.9 1396.6,416.8 1397.3,417.7 1398.0,418.6 1398.6,419.0 1399.3,418.4 1399.9,417.6 1400.6,417.7 1401.3,417.9 1401.9,418.4 1402.6,418.0 1403.2,416.9 1403.9,418.8 1404.6,417.8 1405.2,416.3 1405.9,417.3 1406.6,418.2 1407.2,417.3 1407.9,418.5 1408.5,417.9 1409.2,416.5 1409.9,416.2 1410.5,419.4 1411.2,417.3 1411.8,416.2 1412.5,418.4 1413.2,417.7 1413.8,416.7 1414.5,418.4 1415.1,417.6 1415.8,418.1 1416.5,419.7 1417.1,417.7 1417.8,418.2 1418.4,417.3 1419.1,416.3 1419.8,417.5 1420.4,418.4 1421.1,417.7 1421.8,418.0 1422.4,417.3 1423.1,419.4 1423.7,419.1 1424.4,419.9 1425.1,417.7 1425.7,418.2 1426.4,418.7 1427.0,418.8 1427.7,418.7 1428.4,419.0 1429.0,418.5 1429.7,418.7 1430.3,417.1 1431.0,418.0 1431.7,419.0 1432.3,418.8 1433.0,417.4 1433.6,418.0 1434.3,418.1 1435.0,417.8 1435.6,417.1 1436.3,419.4 1437.0,419.0 1437.6,419.8 1438.3,418.0 1438.9,418.7 1439.6,419.0 1440.3,419.1 1440.9,417.9 1441.6,418.6 1442.2,418.9 1442.9,417.5 1443.6,419.3 1444.2,419.5 1444.9,416.6 1445.5,418.8 1446.2,419.0 1446.9,419.1 1447.5,418.7 1448.2,418.0 1448.8,418.0 1449.5,418.2 1450.2,418.8 1450.8,419.7 1451.5,418.4 1452.2,417.5 1452.8,417.9 1453.5,418.8 1454.1,418.1 1454.8,419.0 1455.5,418.7 1456.1,419.6 1456.8,418.9 1457.4,418.6 1458.1,418.8 1458.8,418.1 1459.4,417.3 1460.1,417.8 1460.7,418.9 1461.4,419.3 1462.1,419.2 1462.7,419.5 1463.4,418.7 1464.0,418.4 1464.7,418.6 1465.4,418.6 1466.0,418.7 1466.7,418.9 1467.4,419.3 1468.0,417.5 1468.7,418.0 1469.3,419.5 1470.0,419.5 1470.7,419.2 1471.3,418.8 1472.0,417.9 1472.6,418.1 1473.3,418.1 1474.0,418.0 1474.6,418.0 1475.3,418.3 1475.9,418.5 1476.6,418.9 1477.3,420.1 1477.9,419.0 1478.6,417.6 1479.2,419.3 1479.9,419.3 1480.6,418.2 1481.2,418.8 1481.9,419.2 1482.6,417.8 1483.2,418.5 1483.9,418.4 1484.5,419.3 1485.2,418.6 1485.9,418.7 1486.5,418.4 1487.2,418.1 1487.8,418.1 1488.5,418.8 1489.2,418.5 1489.8,419.8 1490.5,418.5 1491.1,418.5 1491.8,419.3 1492.5,419.5 1493.1,419.0 1493.8,419.9 1494.4,418.8 1495.1,418.8 1495.8,419.7 1496.4,419.0 1497.1,418.3 1497.8,418.3 1498.4,418.3 1499.1,419.1 1499.7,419.3 1500.4,419.3 1501.1,418.6 1501.7,417.4 1502.4,418.1 1503.0,418.0 1503.7,418.1 1504.4,420.2 1505.0,419.2 1505.7,419.4 1506.3,418.2 1507.0,417.9 1507.7,419.6 1508.3,419.1 1509.0,418.7 1509.6,419.5 1510.3,419.6 1511.0,419.6 1511.6,418.4 1512.3,419.9 1513.0,418.2 1513.6,419.1 1514.3,418.5 1514.9,417.7 1515.6,419.8 1516.3,420.0 1516.9,418.7 1517.6,420.3 1518.2,420.0 1518.9,419.3 1519.6,419.0 1520.2,420.7 1520.9,419.7 1521.5,418.5 1522.2,417.5 1522.9,421.7 1523.5,417.5 1524.2,418.1 1524.8,420.6 1525.5,421.1 1526.2,418.7 1526.8,419.8 1527.5,419.1 1528.2,418.1 1528.8,419.7 1529.5,419.0 1530.1,418.6 1530.8,418.1 1531.5,416.9 1532.1,417.0 1532.8,418.9 1533.4,419.6 1534.1,416.1 1534.8,418.4 1535.4,418.7 1536.1,420.8 1536.7,418.2 1537.4,420.3 1538.1,419.9 1538.7,421.1 1539.4,420.0 1540.0,419.2 1540.7,421.4 1541.4,420.5 1542.0,419.4 1542.7,421.1 1543.4,421.0 1544.0,420.5" stroke="#000" stroke-width="1.2" stroke-linejoin="bevel" fill="none"/><polyline points="850.8,419.6 852.1,419.6 853.4,419.6 854.7,419.6 856.1,419.6 857.4,419.6 858.7,419.6 860.0,419.6 861.3,419.6 862.7,419.6 864.0,419.6 865.3,419.6 866.6,419.5 868.0,419.5 869.3,419.5 870.6,419.5 871.9,419.5 873.2,419.5 874.6,419.5 875.9,419.5 877.2,419.5 878.5,419.5 879.8,419.5 881.2,419.5 882.5,419.5 883.8,419.5 885.1,419.4 886.5,419.4 887.8,419.4 889.1,419.4 890.4,419.4 891.7,419.4 893.1,419.4 894.4,419.4 895.7,419.4 897.0,419.4 898.4,419.4 899.7,419.4 901.0,419.4 902.3,419.3 903.6,419.3 905.0,419.3 906.3,419.3 907.6,419.3 908.9,419.3 910.2,419.3 911.6,419.3 912.9,419.3 914.2,419.3 915.5,419.3 916.9,419.3 918.2,419.3 919.5,419.3 920.8,419.2 922.1,419.2 923.5,419.2 924.8,419.2 926.1,419.2 927.4,419.2 928.8,419.2 930.1,419.2 931.4,419.2 932.7,419.2 934.0,419.2 935.4,419.2 936.7,419.1 938.0,419.1 939.3,419.1 940.6,419.1 942.0,419.1 943.3,419.1 944.6,419.1 945.9,419.1 947.3,419.1 948.6,419.1 949.9,419.0 951.2,419.0 952.5,419.0 953.9,419.0 955.2,419.0 956.5,419.0 957.8,418.9 959.2,418.9 960.5,418.9 961.8,418.9 963.1,418.9 964.4,418.9 965.8,418.8 967.1,418.8 968.4,418.8 969.7,418.8 971.0,418.8 972.4,418.7 973.7,418.7 975.0,418.7 976.3,418.7 977.7,418.7 979.0,418.7 980.3,418.6 981.6,418.6 982.9,418.6 984.3,418.6 985.6,418.6 986.9,418.5 988.2,418.5 989.5,418.5 990.9,418.5 992.2,418.5 993.5,418.4 994.8,418.4 996.2,418.4 997.5,418.4 998.8,418.4 1000.1,418.4 1001.4,418.3 1002.8,418.3 1004.1,418.3 1005.4,418.3 1006.7,418.2 1008.1,418.2 1009.4,418.2 1010.7,418.2 1012.0,418.2 1013.3,418.1 1014.7,418.1 1016.0,418.1 1017.3,418.1 1018.6,418.1 1019.9,418.0 1021.3,418.0 1022.6,418.0 1023.9,417.9 1025.2,417.9 1026.6,417.8 1027.9,417.8 1029.2,417.7 1030.5,417.7 1031.8,417.6 1033.2,417.6 1034.5,417.5 1035.8,417.5 1037.1,417.4 1038.5,417.4 1039.8,417.3 1041.1,417.3 1042.4,417.2 1043.7,417.2 1045.1,417.1 1046.4,417.0 1047.7,417.0 1049.0,416.9 1050.3,416.9 1051.7,416.8 1053.0,416.8 1054.3,416.7 1055.6,416.6 1057.0,416.6 1058.3,416.5 1059.6,416.4 1060.9,416.4 1062.2,416.3 1063.6,416.2 1064.9,416.1 1066.2,416.0 1067.5,415.9 1068.9,415.8 1070.2,415.7 1071.5,415.6 1072.8,415.5 1074.1,415.5 1075.5,415.4 1076.8,415.3 1078.1,415.2 1079.4,415.1 1080.7,414.9 1082.1,414.8 1083.4,414.7 1084.7,414.6 1086.0,414.5 1087.4,414.4 1088.7,414.3 1090.0,414.2 1091.3,414.1 1092.6,414.0 1094.0,413.8 1095.3,413.7 1096.6,413.5 1097.9,413.2 1099.3,413.0 1100.6,412.8 1101.9,412.6 1103.2,412.4 1104.5,412.2 1105.9,411.9 1107.2,411.7 1108.5,411.4 1109.8,411.2 1111.1,410.9 1112.5,410.6 1113.8,410.3 1115.1,409.9 1116.4,409.6 1117.8,409.3 1119.1,408.9 1120.4,408.6 1121.7,408.2 1123.0,407.9 1124.4,407.5 1125.7,407.1 1127.0,406.7 1128.3,406.3 1129.7,405.9 1131.0,405.4 1132.3,404.8 1133.6,404.1 1134.9,403.3 1136.3,402.6 1137.6,401.8 1138.9,401.0 1140.2,400.1 1141.5,399.2 1142.9,398.3 1144.2,397.3 1145.5,396.3 1146.8,395.2 1148.2,394.0 1149.5,392.6 1150.8,391.2 1152.1,389.7 1153.4,388.1 1154.8,386.5 1156.1,384.7 1157.4,382.9 1158.7,380.8 1160.1,378.4 1161.4,375.9 1162.7,373.2 1164.0,370.3 1165.3,367.3 1166.7,364.1 1168.0,360.2 1169.3,355.3 1170.6,350.0 1171.9,344.3 1173.3,338.1 1174.6,331.4 1175.9,323.9 1177.2,315.4 1178.6,305.8 1179.9,294.7 1181.2,282.5 1182.5,270.7 1183.8,258.1 1185.2,239.7 1186.5,221.3 1187.8,206.5 1189.1,185.1 1190.5,164.0 1191.8,143.6 1193.1,122.0 1194.4,106.2 1195.7,94.5 1197.1,85.8 1198.4,81.8 1199.7,83.1 1201.0,94.0 1202.3,114.5 1203.7,138.9 1205.0,154.0 1206.3,176.8 1207.6,201.3 1209.0,218.4 1210.3,235.0 1211.6,251.1 1212.9,264.6 1214.2,276.7 1215.6,288.7 1216.9,300.4 1218.2,310.9 1219.5,319.4 1220.9,327.3 1222.2,334.3 1223.5,340.8 1224.8,346.8 1226.1,352.3 1227.5,357.5 1228.8,362.1 1230.1,365.5 1231.4,368.6 1232.7,371.5 1234.1,374.3 1235.4,377.0 1236.7,379.5 1238.0,381.8 1239.4,383.7 1240.7,385.5 1242.0,387.2 1243.3,388.8 1244.6,390.3 1246.0,391.8 1247.3,393.2 1248.6,394.5 1249.9,395.7 1251.3,396.7 1252.6,397.7 1253.9,398.7 1255.2,399.6 1256.5,400.5 1257.9,401.3 1259.2,402.1 1260.5,402.9 1261.8,403.7 1263.1,404.4 1264.5,405.1 1265.8,405.6 1267.1,406.1 1268.4,406.5 1269.8,406.9 1271.1,407.3 1272.4,407.6 1273.7,408.0 1275.0,408.4 1276.4,408.7 1277.7,409.1 1279.0,409.4 1280.3,409.8 1281.7,410.1 1283.0,410.4 1284.3,410.7 1285.6,411.0 1286.9,411.3 1288.3,411.5 1289.6,411.8 1290.9,412.0 1292.2,412.3 1293.5,412.5 1294.9,412.7 1296.2,412.9 1297.5,413.1 1298.8,413.3 1300.2,413.5 1301.5,413.7 1302.8,413.9 1304.1,414.0 1305.4,414.1 1306.8,414.2 1308.1,414.3 1309.4,414.5 1310.7,414.6 1312.0,414.7 1313.4,414.8 1314.7,414.9 1316.0,415.0 1317.3,415.1 1318.7,415.2 1320.0,415.3 1321.3,415.4 1322.6,415.5 1323.9,415.6 1325.3,415.7 1326.6,415.8 1327.9,415.9 1329.2,416.0 1330.6,416.0 1331.9,416.1 1333.2,416.2 1334.5,416.3 1335.8,416.4 1337.2,416.5 1338.5,416.6 1339.8,416.6 1341.1,416.7 1342.4,416.7 1343.8,416.8 1345.1,416.8 1346.4,416.9 1347.7,417.0 1349.1,417.0 1350.4,417.1 1351.7,417.1 1353.0,417.2 1354.3,417.2 1355.7,417.3 1357.0,417.3 1358.3,417.4 1359.6,417.4 1361.0,417.5 1362.3,417.5 1363.6,417.6 1364.9,417.6 1366.2,417.7 1367.6,417.7 1368.9,417.8 1370.2,417.8 1371.5,417.9 1372.8,417.9 1374.2,418.0 1375.5,418.0 1376.8,418.0 1378.1,418.1 1379.5,418.1 1380.8,418.1 1382.1,418.1 1383.4,418.2 1384.7,418.2 1386.1,418.2 1387.4,418.2 1388.7,418.2 1390.0,418.3 1391.4,418.3 1392.7,418.3 1394.0,418.3 1395.3,418.3 1396.6,418.4 1398.0,418.4 1399.3,418.4 1400.6,418.4 1401.9,418.4 1403.2,418.5 1404.6,418.5 1405.9,418.5 1407.2,418.5 1408.5,418.5 1409.9,418.6 1411.2,418.6 1412.5,418.6 1413.8,418.6 1415.1,418.6 1416.5,418.6 1417.8,418.7 1419.1,418.7 1420.4,418.7 1421.8,418.7 1423.1,418.7 1424.4,418.8 1425.7,418.8 1427.0,418.8 1428.4,418.8 1429.7,418.8 1431.0,418.8 1432.3,418.9 1433.6,418.9 1435.0,418.9 1436.3,418.9 1437.6,418.9 1438.9,418.9 1440.3,419.0 1441.6,419.0 1442.9,419.0 1444.2,419.0 1445.5,419.0 1446.9,419.1 1448.2,419.1 1449.5,419.1 1450.8,419.1 1452.2,419.1 1453.5,419.1 1454.8,419.1 1456.1,419.1 1457.4,419.1 1458.8,419.1 1460.1,419.2 1461.4,419.2 1462.7,419.2 1464.0,419.2 1465.4,419.2 1466.7,419.2 1468.0,419.2 1469.3,419.2 1470.7,419.2 1472.0,419.2 1473.3,419.2 1474.6,419.2 1475.9,419.2 1477.3,419.3 1478.6,419.3 1479.9,419.3 1481.2,419.3 1482.6,419.3 1483.9,419.3 1485.2,419.3 1486.5,419.3 1487.8,419.3 1489.2,419.3 1490.5,419.3 1491.8,419.3 1493.1,419.3 1494.4,419.4 1495.8,419.4 1497.1,419.4 1498.4,419.4 1499.7,419.4 1501.1,419.4 1502.4,419.4 1503.7,419.4 1505.0,419.4 1506.3,419.4 1507.7,419.4 1509.0,419.4 1510.3,419.4 1511.6,419.4 1513.0,419.5 1514.3,419.5 1515.6,419.5 1516.9,419.5 1518.2,419.5 1519.6,419.5 1520.9,419.5 1522.2,419.5 1523.5,419.5 1524.8,419.5 1526.2,419.5 1527.5,419.5 1528.8,419.5 1530.1,419.5 1531.5,419.6 1532.8,419.6 1534.1,419.6 1535.4,419.6 1536.7,419.6 1538.1,419.6 1539.4,419.6 1540.7,419.6 1542.0,419.6 1543.4,419.6" stroke="#ff0000" stroke-width="1" fill="none"/><rect x="823" y="492" width="765" height="208" fill="#fff"/><path d="M823 492 H1587 V493 H1586 V494 H825 V698 H824 V699 H823 Z" fill="#9a9a9a"/><path d="M820.5 498 V694 M812 693.5 H821 M816 688.5 H821 M816 683.5 H821 M816 678.5 H821 M816 674.5 H821 M812 669.5 H821 M816 664.5 H821 M816 659.5 H821 M816 654.5 H821 M816 649.5 H821 M812 644.5 H821 M816 640.5 H821 M816 635.5 H821 M816 630.5 H821 M816 625.5 H821 M812 620.5 H821 M816 615.5 H821 M816 610.5 H821 M816 605.5 H821 M816 600.5 H821 M812 596.5 H821 M816 591.5 H821 M816 586.5 H821 M816 581.5 H821 M816 576.5 H821 M812 571.5 H821 M816 566.5 H821 M816 562.5 H821 M816 557.5 H821 M816 552.5 H821 M812 547.5 H821 M816 542.5 H821 M816 537.5 H821 M816 532.5 H821 M816 527.5 H821 M812 522.5 H821 M816 518.5 H821 M816 513.5 H821 M816 508.5 H821 M816 503.5 H821 M812 498.5 H821" stroke="#000" stroke-width="1" fill="none"/><path d="M829 702.5 H1580 M829.5 702 V711 M860.5 702 V707 M892.5 702 V709 M923.5 702 V707 M954.5 702 V711 M985.5 702 V707 M1016.5 702 V709 M1048.5 702 V707 M1079.5 702 V711 M1110.5 702 V707 M1142.5 702 V709 M1173.5 702 V707 M1204.5 702 V711 M1235.5 702 V707 M1266.5 702 V709 M1298.5 702 V707 M1329.5 702 V711 M1360.5 702 V707 M1392.5 702 V709 M1423.5 702 V707 M1454.5 702 V711 M1485.5 702 V707 M1516.5 702 V709 M1548.5 702 V707 M1579.5 702 V711" stroke="#000" stroke-width="1" fill="none"/><polyline points="862.2,608.4 862.9,621.4 863.5,618.6 864.2,616.6 864.8,623.4 865.5,619.2 866.1,619.4 866.8,628.5 867.4,614.4 868.1,616.7 868.7,622.6 869.4,620.5 870.1,617.5 870.7,621.0 871.4,620.9 872.0,626.3 872.7,617.5 873.3,619.5 874.0,618.9 874.6,626.6 875.3,613.2 875.9,619.6 876.6,621.9 877.2,612.1 877.9,620.6 878.5,626.2 879.2,622.1 879.8,629.5 880.5,616.5 881.1,622.2 881.8,623.5 882.4,616.7 883.1,626.9 883.7,618.9 884.4,628.4 885.0,623.3 885.7,625.3 886.3,615.9 887.0,615.0 887.6,622.3 888.3,618.3 888.9,621.8 889.6,619.4 890.2,623.8 890.9,626.9 891.5,627.2 892.2,620.3 892.8,614.4 893.5,620.6 894.1,623.1 894.8,615.4 895.4,620.7 896.1,621.2 896.7,620.7 897.4,621.9 898.0,622.5 898.7,626.0 899.3,619.9 900.0,621.8 900.6,617.7 901.3,622.6 901.9,627.5 902.6,621.8 903.2,616.1 903.9,622.7 904.5,624.3 905.2,625.2 905.8,624.8 906.5,622.4 907.1,625.2 907.8,616.8 908.4,622.4 909.1,621.1 909.7,616.9 910.4,616.7 911.0,622.1 911.7,620.4 912.3,619.2 913.0,622.1 913.6,627.1 914.3,619.4 914.9,618.7 915.6,620.2 916.2,624.4 916.9,622.1 917.5,623.3 918.2,622.4 918.8,617.4 919.5,616.7 920.1,619.4 920.8,619.7 921.4,619.3 922.1,621.5 922.7,621.7 923.4,623.6 924.0,621.7 924.7,614.4 925.3,618.7 926.0,622.5 926.6,623.0 927.3,624.2 927.9,620.3 928.6,620.2 929.2,626.0 929.9,619.9 930.5,623.3 931.2,617.0 931.8,621.0 932.5,616.1 933.1,622.9 933.8,622.4 934.4,620.5 935.1,618.2 935.7,619.7 936.4,625.3 937.0,620.9 937.7,621.4 938.3,622.8 939.0,623.5 939.6,616.0 940.3,622.7 940.9,624.1 941.6,619.5 942.3,621.1 942.9,621.7 943.6,619.0 944.2,619.9 944.9,620.3 945.5,618.5 946.2,620.6 946.8,623.4 947.5,622.6 948.1,623.1 948.8,620.8 949.4,624.9 950.1,627.2 950.7,621.2 951.4,625.7 952.0,627.6 952.7,620.3 953.3,623.7 954.0,619.9 954.6,623.1 955.3,625.0 955.9,625.3 956.6,623.0 957.2,622.2 957.9,624.0 958.5,622.2 959.2,626.2 959.8,621.3 960.5,626.9 961.1,621.9 961.8,619.0 962.4,617.8 963.1,615.8 963.7,626.1 964.4,618.8 965.0,617.3 965.7,618.0 966.3,624.1 967.0,619.8 967.6,615.2 968.3,625.8 968.9,619.5 969.6,617.5 970.2,623.2 970.9,619.1 971.5,624.4 972.2,623.5 972.8,623.5 973.5,620.3 974.1,621.2 974.8,617.8 975.4,623.8 976.1,621.2 976.7,617.7 977.4,619.0 978.0,625.0 978.7,618.6 979.3,622.2 980.0,619.4 980.6,619.7 981.3,616.7 981.9,620.2 982.6,626.6 983.2,625.0 983.9,618.2 984.5,621.4 985.2,616.8 985.8,619.6 986.5,622.9 987.1,617.0 987.8,623.1 988.4,627.1 989.1,613.7 989.7,626.6 990.4,618.3 991.0,617.3 991.7,619.8 992.3,625.8 993.0,617.0 993.6,625.0 994.3,624.6 994.9,621.4 995.6,617.6 996.2,619.2 996.9,617.5 997.5,621.6 998.2,620.7 998.8,623.8 999.5,621.1 1000.1,618.1 1000.8,621.0 1001.4,618.4 1002.1,621.9 1002.7,621.9 1003.4,619.8 1004.0,620.6 1004.7,618.0 1005.3,619.3 1006.0,614.1 1006.6,620.6 1007.3,620.6 1007.9,623.2 1008.6,619.7 1009.2,617.5 1009.9,622.2 1010.5,619.9 1011.2,617.3 1011.8,620.1 1012.5,621.4 1013.2,616.4 1013.8,619.3 1014.5,618.3 1015.1,615.7 1015.8,615.7 1016.4,620.7 1017.1,621.3 1017.7,618.6 1018.4,619.9 1019.0,625.8 1019.7,615.2 1020.3,619.4 1021.0,616.9 1021.6,623.4 1022.3,615.0 1022.9,621.3 1023.6,619.7 1024.2,624.1 1024.9,619.9 1025.5,620.0 1026.2,619.9 1026.8,617.7 1027.5,619.0 1028.1,615.8 1028.8,620.8 1029.4,622.6 1030.1,619.2 1030.7,616.9 1031.4,614.7 1032.0,616.2 1032.7,625.2 1033.3,617.7 1034.0,613.8 1034.6,618.8 1035.3,620.8 1035.9,617.8 1036.6,620.7 1037.2,616.6 1037.9,618.9 1038.5,613.9 1039.2,617.0 1039.8,621.4 1040.5,616.6 1041.1,615.4 1041.8,620.8 1042.4,620.3 1043.1,627.1 1043.7,615.4 1044.4,620.8 1045.0,626.4 1045.7,625.1 1046.3,619.4 1047.0,615.8 1047.6,618.9 1048.3,616.8 1048.9,622.6 1049.6,623.5 1050.2,615.2 1050.9,616.6 1051.5,618.6 1052.2,613.6 1052.8,622.0 1053.5,620.0 1054.1,614.5 1054.8,611.4 1055.4,618.3 1056.1,612.0 1056.7,620.6 1057.4,617.0 1058.0,618.9 1058.7,624.3 1059.3,617.2 1060.0,614.6 1060.6,618.7 1061.3,618.4 1061.9,612.8 1062.6,622.9 1063.2,623.9 1063.9,620.6 1064.5,622.7 1065.2,612.8 1065.8,616.8 1066.5,621.4 1067.1,620.4 1067.8,606.7 1068.4,620.3 1069.1,620.9 1069.7,616.7 1070.4,615.3 1071.0,617.0 1071.7,621.4 1072.3,622.4 1073.0,615.4 1073.6,618.0 1074.3,624.3 1074.9,613.0 1075.6,614.6 1076.2,618.6 1076.9,618.7 1077.5,616.7 1078.2,620.4 1078.8,623.0 1079.5,616.3 1080.1,623.4 1080.8,615.9 1081.4,623.4 1082.1,617.9 1082.7,618.0 1083.4,610.1 1084.0,621.8 1084.7,623.2 1085.4,620.0 1086.0,621.9 1086.7,619.7 1087.3,615.5 1088.0,613.9 1088.6,610.2 1089.3,620.2 1089.9,606.0 1090.6,608.7 1091.2,617.9 1091.9,626.7 1092.5,617.3 1093.2,616.6 1093.8,626.8 1094.5,616.6 1095.1,617.7 1095.8,620.2 1096.4,614.1 1097.1,612.4 1097.7,618.8 1098.4,615.7 1099.0,619.5 1099.7,620.1 1100.3,616.3 1101.0,614.3 1101.6,619.0 1102.3,626.3 1102.9,613.9 1103.6,623.5 1104.2,615.9 1104.9,608.4 1105.5,616.4 1106.2,621.7 1106.8,622.9 1107.5,611.0 1108.1,616.3 1108.8,613.8 1109.4,612.0 1110.1,616.4 1110.7,617.5 1111.4,620.5 1112.0,630.3 1112.7,623.2 1113.3,616.6 1114.0,617.1 1114.6,614.5 1115.3,617.0 1115.9,615.7 1116.6,612.8 1117.2,620.6 1117.9,617.9 1118.5,624.1 1119.2,612.1 1119.8,616.5 1120.5,614.4 1121.1,609.5 1121.8,611.7 1122.4,617.1 1123.1,613.1 1123.7,623.8 1124.4,614.8 1125.0,616.3 1125.7,625.3 1126.3,610.2 1127.0,620.8 1127.6,613.5 1128.3,619.5 1128.9,611.7 1129.6,609.9 1130.2,622.1 1130.9,626.2 1131.5,618.2 1132.2,612.4 1132.8,619.7 1133.5,621.3 1134.1,614.5 1134.8,635.1 1135.4,621.9 1136.1,626.7 1136.7,615.8 1137.4,622.7 1138.0,625.4 1138.7,620.3 1139.3,628.1 1140.0,618.0 1140.6,622.8 1141.3,620.7 1141.9,623.3 1142.6,611.4 1143.2,619.0 1143.9,614.4 1144.5,614.7 1145.2,624.6 1145.8,614.2 1146.5,615.9 1147.1,616.2 1147.8,621.8 1148.4,622.2 1149.1,612.7 1149.7,601.7 1150.4,625.7 1151.0,614.8 1151.7,622.2 1152.3,612.9 1153.0,615.8 1153.6,610.7 1154.3,642.5 1154.9,624.8 1155.6,628.4 1156.2,621.5 1156.9,627.1 1157.6,626.8 1158.2,616.1 1158.9,606.2 1159.5,646.6 1160.2,625.7 1160.8,620.8 1161.5,623.8 1162.1,627.3 1162.8,636.5 1163.4,633.4 1164.1,619.1 1164.7,616.3 1165.4,625.4 1166.0,634.2 1166.7,626.2 1167.3,629.7 1168.0,622.8 1168.6,627.1 1169.3,634.3 1169.9,627.1 1170.6,640.3 1171.2,621.9 1171.9,618.8 1172.5,641.5 1173.2,626.7 1173.8,640.5 1174.5,621.1 1175.1,623.1 1175.8,634.3 1176.4,622.9 1177.1,637.0 1177.7,639.4 1178.4,639.1 1179.0,635.3 1179.7,637.4 1180.3,632.7 1181.0,640.7 1181.6,626.4 1182.3,623.5 1182.9,640.2 1183.6,651.0 1184.2,626.5 1184.9,621.5 1185.5,637.1 1186.2,648.6 1186.8,625.5 1187.5,605.4 1188.1,645.9 1188.8,607.6 1189.4,610.1 1190.1,611.9 1190.7,590.6 1191.4,614.0 1192.0,588.6 1192.7,571.2 1193.3,585.6 1194.0,598.9 1194.6,610.4 1195.3,601.7 1195.9,609.0 1196.6,555.0 1197.2,582.0 1197.9,557.1 1198.5,600.4 1199.2,600.7 1199.8,593.0 1200.5,614.2 1201.1,604.0 1201.8,666.9 1202.4,685.8 1203.1,662.3 1203.7,641.7 1204.4,639.8 1205.0,661.1 1205.7,640.2 1206.3,633.2 1207.0,605.6 1207.6,587.7 1208.3,590.0 1208.9,582.6 1209.6,547.4 1210.2,511.3 1210.9,528.8 1211.5,562.1 1212.2,587.5 1212.8,576.7 1213.5,579.4 1214.1,573.7 1214.8,559.3 1215.4,598.7 1216.1,608.6 1216.7,579.9 1217.4,598.7 1218.0,610.1 1218.7,619.8 1219.3,631.3 1220.0,621.2 1220.6,646.2 1221.3,635.0 1221.9,646.8 1222.6,650.9 1223.2,630.8 1223.9,631.5 1224.5,659.4 1225.2,649.9 1225.8,634.6 1226.5,626.6 1227.1,644.0 1227.8,639.1 1228.5,650.3 1229.1,614.6 1229.8,632.9 1230.4,629.2 1231.1,631.2 1231.7,628.7 1232.4,631.5 1233.0,638.8 1233.7,628.9 1234.3,633.4 1235.0,622.5 1235.6,638.1 1236.3,635.6 1236.9,625.0 1237.6,619.2 1238.2,627.2 1238.9,632.8 1239.5,627.9 1240.2,630.4 1240.8,612.3 1241.5,619.4 1242.1,616.6 1242.8,623.2 1243.4,628.8 1244.1,616.6 1244.7,613.1 1245.4,620.1 1246.0,623.8 1246.7,616.4 1247.3,625.3 1248.0,617.9 1248.6,626.7 1249.3,628.1 1249.9,618.7 1250.6,619.9 1251.2,610.4 1251.9,623.4 1252.5,621.4 1253.2,628.2 1253.8,632.3 1254.5,631.6 1255.1,618.3 1255.8,627.7 1256.4,614.3 1257.1,612.5 1257.7,622.1 1258.4,611.0 1259.0,618.9 1259.7,613.8 1260.3,621.2 1261.0,614.5 1261.6,624.8 1262.3,616.1 1262.9,621.9 1263.6,620.0 1264.2,615.8 1264.9,618.1 1265.5,619.2 1266.2,615.0 1266.8,614.5 1267.5,625.6 1268.1,615.6 1268.8,614.9 1269.4,622.1 1270.1,616.3 1270.7,624.8 1271.4,610.8 1272.0,619.2 1272.7,618.3 1273.3,611.9 1274.0,618.5 1274.6,614.7 1275.3,622.8 1275.9,620.4 1276.6,624.4 1277.2,618.5 1277.9,612.3 1278.5,616.2 1279.2,612.9 1279.8,622.2 1280.5,621.4 1281.1,619.3 1281.8,614.2 1282.4,615.1 1283.1,616.9 1283.7,613.7 1284.4,617.4 1285.0,616.7 1285.7,610.3 1286.3,619.2 1287.0,615.5 1287.6,608.7 1288.3,615.7 1288.9,612.8 1289.6,618.9 1290.2,606.8 1290.9,626.5 1291.5,621.2 1292.2,620.7 1292.8,608.2 1293.5,614.0 1294.1,616.8 1294.8,621.4 1295.4,613.8 1296.1,614.8 1296.7,618.5 1297.4,622.0 1298.0,620.2 1298.7,614.2 1299.3,613.8 1300.0,614.9 1300.7,615.9 1301.3,623.2 1302.0,615.1 1302.6,619.9 1303.3,615.2 1303.9,613.4 1304.6,618.4 1305.2,619.9 1305.9,611.2 1306.5,614.0 1307.2,618.3 1307.8,628.4 1308.5,615.8 1309.1,613.0 1309.8,610.9 1310.4,618.6 1311.1,618.4 1311.7,617.6 1312.4,612.3 1313.0,620.7 1313.7,616.3 1314.3,619.7 1315.0,614.8 1315.6,622.3 1316.3,614.5 1316.9,618.0 1317.6,616.9 1318.2,614.0 1318.9,611.6 1319.5,622.9 1320.2,612.2 1320.8,614.0 1321.5,617.4 1322.1,610.8 1322.8,615.6 1323.4,611.3 1324.1,618.6 1324.7,619.7 1325.4,611.8 1326.0,608.3 1326.7,614.1 1327.3,613.2 1328.0,618.3 1328.6,621.5 1329.3,617.4 1329.9,611.1 1330.6,623.5 1331.2,618.5 1331.9,623.7 1332.5,616.3 1333.2,613.5 1333.8,621.2 1334.5,618.2 1335.1,611.9 1335.8,617.1 1336.4,621.2 1337.1,621.5 1337.7,624.1 1338.4,614.0 1339.0,619.5 1339.7,613.1 1340.3,613.7 1341.0,619.2 1341.6,618.8 1342.3,614.1 1342.9,616.4 1343.6,616.0 1344.2,622.8 1344.9,613.8 1345.5,620.1 1346.2,625.0 1346.8,619.2 1347.5,615.5 1348.1,609.7 1348.8,618.4 1349.4,621.7 1350.1,609.7 1350.7,616.5 1351.4,618.0 1352.0,620.9 1352.7,620.6 1353.3,612.0 1354.0,618.1 1354.6,619.0 1355.3,619.0 1355.9,611.8 1356.6,619.3 1357.2,615.1 1357.9,616.4 1358.5,616.5 1359.2,620.3 1359.8,615.1 1360.5,611.9 1361.1,617.5 1361.8,620.5 1362.4,621.7 1363.1,616.7 1363.7,618.3 1364.4,617.8 1365.0,617.4 1365.7,622.4 1366.3,614.8 1367.0,616.7 1367.6,617.7 1368.3,616.7 1368.9,614.4 1369.6,617.4 1370.2,620.4 1370.9,613.7 1371.6,619.0 1372.2,620.0 1372.9,622.7 1373.5,617.6 1374.2,621.1 1374.8,619.4 1375.5,616.2 1376.1,617.6 1376.8,614.4 1377.4,616.7 1378.1,619.0 1378.7,618.8 1379.4,619.4 1380.0,615.7 1380.7,617.7 1381.3,619.1 1382.0,615.1 1382.6,617.5 1383.3,619.3 1383.9,622.7 1384.6,616.5 1385.2,617.1 1385.9,617.8 1386.5,619.3 1387.2,620.6 1387.8,618.7 1388.5,617.3 1389.1,618.4 1389.8,618.5 1390.4,619.5 1391.1,617.0 1391.7,617.3 1392.4,620.4 1393.0,615.7 1393.7,615.6 1394.3,615.6 1395.0,618.5 1395.6,618.7 1396.3,621.7 1396.9,615.8 1397.6,624.7 1398.2,619.3 1398.9,619.2 1399.5,615.6 1400.2,618.2 1400.8,621.1 1401.5,622.5 1402.1,620.4 1402.8,617.9 1403.4,618.1 1404.1,618.8 1404.7,620.3 1405.4,618.9 1406.0,615.3 1406.7,621.5 1407.3,618.2 1408.0,613.6 1408.6,616.7 1409.3,619.7 1409.9,616.4 1410.6,620.5 1411.2,618.3 1411.9,613.9 1412.5,612.9 1413.2,623.3 1413.8,616.4 1414.5,612.9 1415.1,620.0 1415.8,617.7 1416.4,614.2 1417.1,619.8 1417.7,617.2 1418.4,618.6 1419.0,623.9 1419.7,617.5 1420.3,619.0 1421.0,615.9 1421.6,612.7 1422.3,616.6 1422.9,619.6 1423.6,617.3 1424.2,618.0 1424.9,615.8 1425.5,622.5 1426.2,621.8 1426.8,624.1 1427.5,617.0 1428.1,618.7 1428.8,620.4 1429.4,620.6 1430.1,620.2 1430.7,621.1 1431.4,619.5 1432.0,620.0 1432.7,615.0 1433.3,617.9 1434.0,620.9 1434.6,620.3 1435.3,615.6 1435.9,617.6 1436.6,618.0 1437.2,616.9 1437.9,614.7 1438.5,621.9 1439.2,620.7 1439.8,623.3 1440.5,617.6 1441.1,619.8 1441.8,620.5 1442.4,620.8 1443.1,617.1 1443.8,619.2 1444.4,620.2 1445.1,615.8 1445.7,621.5 1446.4,622.0 1447.0,612.5 1447.7,619.8 1448.3,620.3 1449.0,620.7 1449.6,619.3 1450.3,617.1 1450.9,617.2 1451.6,617.7 1452.2,619.7 1452.9,622.6 1453.5,618.3 1454.2,615.4 1454.8,616.5 1455.5,619.4 1456.1,617.1 1456.8,620.0 1457.4,619.2 1458.1,622.0 1458.7,619.8 1459.4,618.7 1460.0,619.5 1460.7,617.3 1461.3,614.6 1462.0,616.0 1462.6,619.8 1463.3,620.8 1463.9,620.7 1464.6,621.4 1465.2,619.0 1465.9,618.1 1466.5,618.7 1467.2,618.7 1467.8,618.8 1468.5,619.5 1469.1,620.9 1469.8,615.1 1470.4,616.7 1471.1,621.3 1471.7,621.3 1472.4,620.6 1473.0,619.1 1473.7,616.2 1474.3,616.8 1475.0,616.7 1475.6,616.7 1476.3,616.6 1476.9,617.5 1477.6,618.2 1478.2,619.5 1478.9,623.3 1479.5,619.5 1480.2,615.0 1480.8,620.5 1481.5,620.7 1482.1,616.9 1482.8,619.1 1483.4,620.4 1484.1,615.7 1484.7,617.8 1485.4,617.5 1486.0,620.6 1486.7,618.1 1487.3,618.4 1488.0,617.5 1488.6,616.7 1489.3,616.7 1489.9,618.9 1490.6,617.7 1491.2,622.0 1491.9,617.9 1492.5,617.8 1493.2,620.2 1493.8,621.1 1494.5,619.5 1495.1,622.1 1495.8,618.6 1496.4,618.7 1497.1,621.5 1497.7,619.3 1498.4,616.9 1499.0,617.0 1499.7,617.1 1500.3,619.7 1501.0,620.2 1501.6,620.3 1502.3,618.1 1502.9,614.1 1503.6,616.2 1504.2,615.8 1504.9,616.4 1505.5,623.1 1506.2,619.9 1506.8,620.4 1507.5,616.6 1508.1,615.6 1508.8,621.0 1509.4,619.4 1510.1,618.2 1510.7,620.6 1511.4,621.0 1512.0,621.1 1512.7,617.2 1513.3,621.9 1514.0,616.4 1514.6,619.3 1515.3,617.3 1516.0,614.8 1516.6,621.6 1517.3,622.2 1517.9,618.1 1518.6,623.1 1519.2,622.1 1519.9,619.9 1520.5,618.9 1521.2,624.3 1521.8,621.0 1522.5,617.2 1523.1,614.0 1523.8,627.6 1524.4,614.1 1525.1,615.9 1525.7,624.0 1526.4,625.7 1527.0,617.8 1527.7,621.3 1528.3,619.0 1529.0,615.9 1529.6,621.1 1530.3,618.8 1530.9,617.5 1531.6,615.7 1532.2,612.0 1532.9,612.2 1533.5,618.5 1534.2,620.5 1534.8,609.3 1535.5,616.7 1536.1,617.7 1536.8,624.3 1537.4,616.1 1538.1,622.9 1538.7,621.5 1539.4,625.4 1540.0,621.8 1540.7,619.2 1541.3,626.2 1542.0,623.5 1542.6,619.9 1543.3,625.2 1543.9,625.1 1544.6,623.3" stroke="#0000ff" stroke-width="1.35" stroke-linejoin="bevel" fill="none"/></g></svg>
<span class="t" style="top:39.5px;font-size:13px;line-height:16px;right:803.7px;text-align:right;-webkit-text-stroke:0.25px;">2.5</span>
<span class="t" style="top:114.5px;font-size:13px;line-height:16px;right:803.7px;text-align:right;-webkit-text-stroke:0.25px;">2</span>
<span class="t" style="top:189.5px;font-size:13px;line-height:16px;right:803.7px;text-align:right;-webkit-text-stroke:0.25px;">1.5</span>
<span class="t" style="top:265.5px;font-size:13px;line-height:16px;right:803.7px;text-align:right;-webkit-text-stroke:0.25px;">1</span>
<span class="t" style="top:340.5px;font-size:13px;line-height:16px;right:803.7px;text-align:right;-webkit-text-stroke:0.25px;">0.5</span>
<span class="t" style="top:415.5px;font-size:13px;line-height:16px;right:803.7px;text-align:right;-webkit-text-stroke:0.25px;">0</span>
<span class="t" style="top:443px;font-size:13px;line-height:16px;left:717.5px;width:200px;text-align:center;-webkit-text-stroke:0.25px;">-0.6</span>
<span class="t" style="top:443px;font-size:13px;line-height:16px;left:844.5px;width:200px;text-align:center;-webkit-text-stroke:0.25px;">-0.4</span>
<span class="t" style="top:443px;font-size:13px;line-height:16px;left:971.5px;width:200px;text-align:center;-webkit-text-stroke:0.25px;">-0.2</span>
<span class="t" style="top:443px;font-size:13px;line-height:16px;left:1098.5px;width:200px;text-align:center;-webkit-text-stroke:0.25px;">0</span>
<span class="t" style="top:443px;font-size:13px;line-height:16px;left:1225.5px;width:200px;text-align:center;-webkit-text-stroke:0.25px;">0.2</span>
<span class="t" style="top:443px;font-size:13px;line-height:16px;left:1352.5px;width:200px;text-align:center;-webkit-text-stroke:0.25px;">0.4</span>
<span class="t" style="top:443px;font-size:13px;line-height:16px;left:1479.5px;width:200px;text-align:center;-webkit-text-stroke:0.25px;">0.6</span>
<span class="t" style="top:490.5px;font-size:13px;line-height:16px;right:791.7px;text-align:right;-webkit-text-stroke:0.25px;">0.25</span>
<span class="t" style="top:514.5px;font-size:13px;line-height:16px;right:791.7px;text-align:right;-webkit-text-stroke:0.25px;">0.2</span>
<span class="t" style="top:539.5px;font-size:13px;line-height:16px;right:791.7px;text-align:right;-webkit-text-stroke:0.25px;">0.15</span>
<span class="t" style="top:563.5px;font-size:13px;line-height:16px;right:791.7px;text-align:right;-webkit-text-stroke:0.25px;">0.1</span>
<span class="t" style="top:588.5px;font-size:13px;line-height:16px;right:791.7px;text-align:right;-webkit-text-stroke:0.25px;">0.05</span>
<span class="t" style="top:612.5px;font-size:13px;line-height:16px;right:791.7px;text-align:right;-webkit-text-stroke:0.25px;">0</span>
<span class="t" style="top:636.5px;font-size:13px;line-height:16px;right:791.7px;text-align:right;-webkit-text-stroke:0.25px;">-0.05</span>
<span class="t" style="top:661.5px;font-size:13px;line-height:16px;right:791.7px;text-align:right;-webkit-text-stroke:0.25px;">-0.1</span>
<span class="t" style="top:685.5px;font-size:13px;line-height:16px;right:791.7px;text-align:right;-webkit-text-stroke:0.25px;">-0.15</span>
<span class="t" style="top:713px;font-size:13px;line-height:16px;left:729.5px;width:200px;text-align:center;-webkit-text-stroke:0.25px;">-0.6</span>
<span class="t" style="top:713px;font-size:13px;line-height:16px;left:854.5px;width:200px;text-align:center;-webkit-text-stroke:0.25px;">-0.4</span>
<span class="t" style="top:713px;font-size:13px;line-height:16px;left:979.5px;width:200px;text-align:center;-webkit-text-stroke:0.25px;">-0.2</span>
<span class="t" style="top:713px;font-size:13px;line-height:16px;left:1104.5px;width:200px;text-align:center;-webkit-text-stroke:0.25px;">0</span>
<span class="t" style="top:713px;font-size:13px;line-height:16px;left:1229.5px;width:200px;text-align:center;-webkit-text-stroke:0.25px;">0.2</span>
<span class="t" style="top:713px;font-size:13px;line-height:16px;left:1354.5px;width:200px;text-align:center;-webkit-text-stroke:0.25px;">0.4</span>
<span class="t" style="top:713px;font-size:13px;line-height:16px;left:1479.5px;width:200px;text-align:center;-webkit-text-stroke:0.25px;">0.6</span>
<span class="t" style="top:461px;font-size:11px;line-height:14px;left:1535.07px;transform:scaleX(0.9252);transform-origin:0 50%;">Sample</span>
<span class="t" style="top:461px;font-size:11px;line-height:14px;color:#ff0000;left:1574.48px;transform:scaleX(1.0870);transform-origin:0 50%;">Fit</span>
<span class="t" style="top:730.6px;font-size:11px;line-height:14px;color:#0000ff;left:1537.04px;transform:scaleX(1.0154);transform-origin:0 50%;">Difference</span>
</div></body></html>
